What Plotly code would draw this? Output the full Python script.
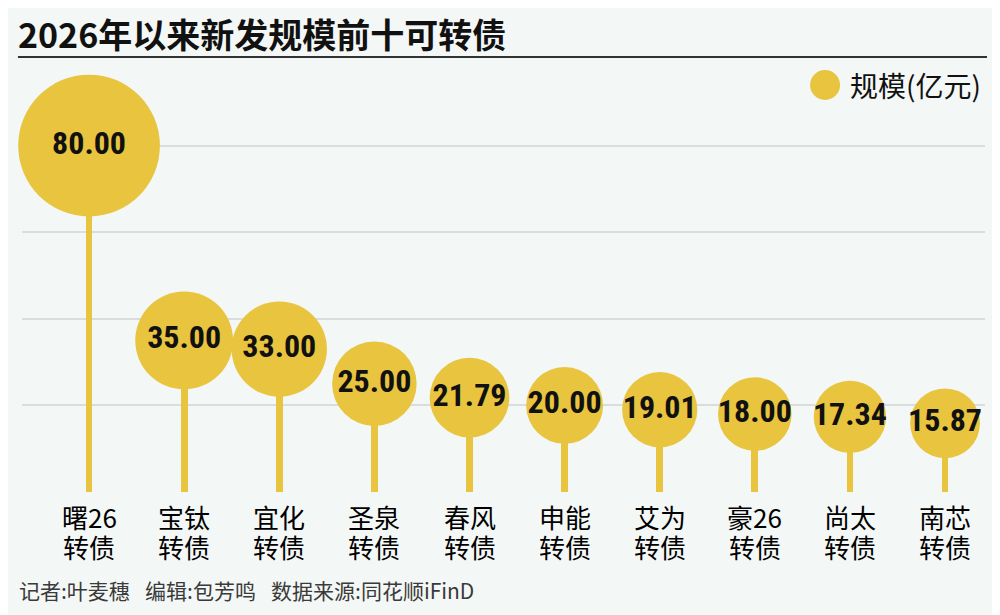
import numpy as np
import plotly.graph_objects as go

# data
bond_names = ["曙26", "宝钛", "宜化", "圣泉", "春风", "申能", "艾为", "豪26", "尚太", "南芯"]
bond_suffix = ["转债"] * 10
issue_size = [80.00, 35.00, 33.00, 25.00, 21.79, 20.00, 19.01, 18.00, 17.34, 15.87]
grid_vals = [20, 40, 60, 80]

YELLOW = "#E8C43F"
BG = "#F3F7F5"
CJK = "Noto Sans CJK SC, Noto Sans, sans-serif"
NUMS = "Roboto Condensed, Roboto, sans-serif"

pos = list(range(len(bond_names)))
# bubble diameter grows with sqrt of issue size (matches the reference roughly)
sizes = [14.5 * np.sqrt(v) + 12 for v in issue_size]

fig = go.Figure()

# stems
fig.add_trace(
    go.Bar(
        x=pos,
        y=issue_size,
        width=0.072,
        marker=dict(color=YELLOW, line=dict(width=0)),
        hoverinfo="skip",
        showlegend=False,
    )
)

# bubbles with value labels
fig.add_trace(
    go.Scatter(
        x=pos,
        y=issue_size,
        mode="markers+text",
        marker=dict(size=sizes, sizemode="diameter", color=YELLOW, opacity=1, line=dict(width=0)),
        text=[f"{v:.2f}" for v in issue_size],
        textposition="middle center",
        textfont=dict(family=NUMS, size=32, color="#111111", weight="bold"),
        cliponaxis=False,
        showlegend=False,
        hovertemplate="%{y:.2f}亿元<extra></extra>",
    )
)

annotations = []
# two-line category labels, lines set tight like the reference
for i, (n, s) in enumerate(zip(bond_names, bond_suffix)):
    annotations.append(dict(
        x=i, xref="x", y=-0.058, yref="paper", text=n, showarrow=False,
        xanchor="center", yanchor="middle",
        font=dict(family=CJK, size=26, color="#000000"),
    ))
    annotations.append(dict(
        x=i, xref="x", y=-0.1295, yref="paper", text=s, showarrow=False,
        xanchor="center", yanchor="middle",
        font=dict(family=CJK, size=26, color="#000000"),
    ))

# legend text
annotations.append(dict(
    x=0.8577, xref="paper", y=0.976, yref="paper", text="规模(亿元)", showarrow=False,
    xanchor="left", yanchor="middle",
    font=dict(family=CJK, size=28, color="#111111"),
))

# footer
annotations.append(dict(
    x=-0.0052, xref="paper", y=-0.235, yref="paper",
    text="记者:叶麦穗\u2002\u00a0编辑:包芳鸣\u2002\u00a0数据来源:同花顺iFinD",
    showarrow=False, xanchor="left", yanchor="middle",
    font=dict(family=CJK, size=21, color="#3a3a3a"),
))

shapes = [
    # title underline
    dict(type="line", xref="paper", yref="paper", x0=-0.0042, x1=1.0021, y0=1.0432, y1=1.0432,
         line=dict(color="#333333", width=2)),
    # legend marker
    dict(type="circle", xref="paper", yref="paper", xsizemode="pixel", ysizemode="pixel",
         xanchor=0.8339, yanchor=0.976, x0=-15, x1=15, y0=-15, y1=15,
         fillcolor=YELLOW, line=dict(width=0)),
]

# the page body adds an 8px margin, so the plot box is shifted up/left by 8px
fig.update_layout(
    width=1000,
    height=615,
    margin=dict(l=14, r=23, t=67, b=131),
    paper_bgcolor=BG,
    plot_bgcolor=BG,
    title=dict(
        text="2026年以来新发规模前十可转债",
        x=0.010, xanchor="left", xref="container",
        y=0.9545, yanchor="middle", yref="container",
        font=dict(family=CJK, size=34, color="#111111", weight="bold"),
    ),
    xaxis=dict(
        range=[-0.705, 9.42], showgrid=False, zeroline=False, showticklabels=False,
        showline=False, ticks="", fixedrange=True,
    ),
    yaxis=dict(
        range=[0, 96.3], tickvals=grid_vals, showticklabels=False, ticks="",
        showgrid=True, gridcolor="#D9DDDD", gridwidth=1.5, zeroline=False, showline=False,
        fixedrange=True,
    ),
    bargap=0,
    annotations=annotations,
    shapes=shapes,
    showlegend=False,
)

fig.write_html("out.html")
